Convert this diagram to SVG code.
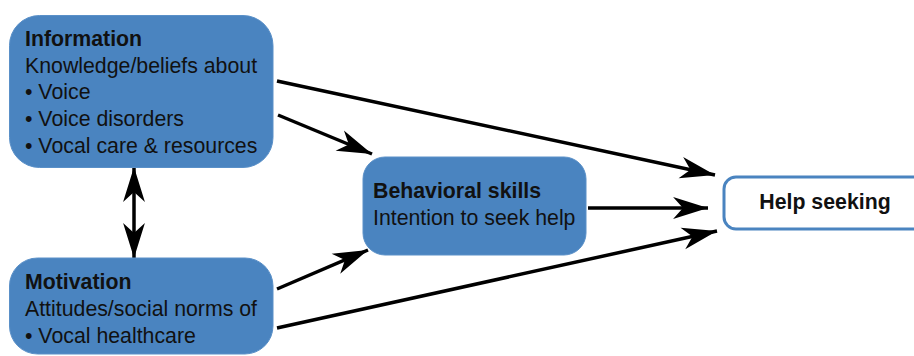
<svg xmlns="http://www.w3.org/2000/svg" width="914" height="356" viewBox="0 0 914 356">
<defs>
<style>
.box{fill:#4a84c0;stroke:#5a90c8;stroke-width:1}
.out{fill:#ffffff;stroke:#4a84c0;stroke-width:3}
text{font-family:"Liberation Sans",Arial,sans-serif;font-size:21.3px;fill:#111}
.b{font-weight:bold}
.c{stroke:#000;stroke-width:3.5;fill:none}
</style>
<marker id="ah" markerUnits="userSpaceOnUse" markerWidth="40" markerHeight="24" viewBox="-33 -11 35 22" refX="0" refY="0" orient="auto-start-reverse">
<path d="M0,0 L-32,-10 L-23,0 L-32,10 Z" fill="#000"/>
</marker>
</defs>
<g id="connectors">
<line class="c" x1="277" y1="81" x2="715" y2="175" marker-end="url(#ah)"/>
<line class="c" x1="278" y1="115" x2="372" y2="154" marker-end="url(#ah)"/>
<line class="c" x1="588" y1="208" x2="708" y2="208" marker-end="url(#ah)"/>
<line class="c" x1="277" y1="289" x2="368" y2="250" marker-end="url(#ah)"/>
<line class="c" x1="277" y1="328" x2="717" y2="231" marker-end="url(#ah)"/>
<line class="c" x1="134" y1="167" x2="134" y2="258" marker-start="url(#ah)" marker-end="url(#ah)"/>
</g>
<g id="information">
<rect class="box" x="9.5" y="15.5" width="263.5" height="152" rx="30"/>
<text x="25" y="46" class="b">Information</text>
<text x="25" y="72.7">Knowledge/beliefs about</text>
<text x="25" y="99.3">• Voice</text>
<text x="25" y="126">• Voice disorders</text>
<text x="25" y="152.7">• Vocal care &amp; resources</text>
</g>
<g id="motivation">
<rect class="box" x="9.5" y="258" width="263.5" height="96" rx="28"/>
<text x="25" y="289" class="b">Motivation</text>
<text x="25" y="316">Attitudes/social norms of</text>
<text x="25" y="342.7">• Vocal healthcare</text>
</g>
<g id="behavioral">
<rect class="box" x="363" y="157" width="223" height="98" rx="22"/>
<text x="373" y="198.3" class="b">Behavioral skills</text>
<text x="373" y="225">Intention to seek help</text>
</g>
<g id="help">
<rect class="out" x="724" y="177" width="210" height="52" rx="12"/>
<text x="825" y="209" class="b" text-anchor="middle">Help seeking</text>
</g>
</svg>
